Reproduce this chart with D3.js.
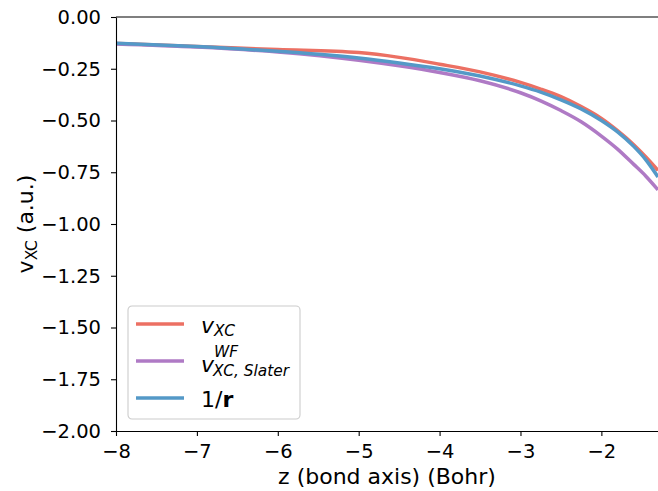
<!DOCTYPE html>
<html>
<head>
<meta charset="utf-8">
<script src="https://cdn.jsdelivr.net/npm/d3@7"></script>
<style>
  body { margin: 0; background: #fff; }
  text { font-family: "DejaVu Sans", sans-serif; fill: #000; }
</style>
</head>
<body>
<svg id="chart" width="658" height="491"></svg>
<script>
const width = 658;
const height = 491;
const margin = { top: 17, right: 0, bottom: 60, left: 116 };

// values
const z = [-8.0, -7.0, -6.0, -5.0, -4.5, -4.0, -3.5, -3.0, -2.75, -2.5, -2.25, -2.0, -1.8, -1.6, -1.45, -1.3];
const vxc = [-0.128, -0.143, -0.157, -0.172, -0.195, -0.228, -0.265, -0.316, -0.348, -0.385, -0.433, -0.490, -0.549, -0.617, -0.676, -0.741];
const vSlater = [-0.130, -0.145, -0.169, -0.209, -0.236, -0.268, -0.308, -0.366, -0.405, -0.452, -0.506, -0.575, -0.638, -0.712, -0.769, -0.835];
const invR = [-0.127, -0.143, -0.166, -0.198, -0.222, -0.250, -0.285, -0.333, -0.363, -0.400, -0.444, -0.500, -0.555, -0.625, -0.690, -0.773];

const xTicks = [-8, -7, -6, -5, -4, -3, -2];
const yTicks = [0, -0.25, -0.5, -0.75, -1, -1.25, -1.5, -1.75, -2];

const svg = d3.select('#chart');

const x = d3.scaleLinear().domain([-8, -1.3]).range([margin.left, width - margin.right]);
const y = d3.scaleLinear().domain([-2, 0]).range([height - margin.bottom, margin.top]);

svg.append('defs').append('clipPath').attr('id', 'clip')
  .append('rect')
  .attr('x', margin.left).attr('y', margin.top)
  .attr('width', width - margin.left - margin.right)
  .attr('height', height - margin.top - margin.bottom);

// Lines
const series = [
  { values: vxc, color: '#ec7063' },
  { values: vSlater, color: '#af7ac5' },
  { values: invR, color: '#5499c7' }
];

const line = d3.line()
  .x((d, i) => x(z[i]))
  .y(d => y(d))
  .curve(d3.curveMonotoneX);

svg.append('g')
  .attr('clip-path', 'url(#clip)')
  .selectAll('path')
  .data(series)
  .enter().append('path')
  .attr('d', d => line(d.values))
  .attr('fill', 'none')
  .attr('stroke', d => d.color)
  .attr('stroke-width', 3.5);

// Axes
const xAxis = d3.axisBottom(x)
  .tickValues(xTicks)
  .tickFormat(d3.format('d'))
  .tickSize(5)
  .tickSizeOuter(0)
  .tickPadding(8);

const yAxis = d3.axisLeft(y)
  .tickValues(yTicks)
  .tickFormat(d3.format('.2f'))
  .tickSize(5)
  .tickSizeOuter(0)
  .tickPadding(10);

const gx = svg.append('g')
  .attr('transform', `translate(0,${height - margin.bottom})`)
  .call(xAxis);

const gy = svg.append('g')
  .attr('transform', `translate(${margin.left},0)`)
  .call(yAxis);

[gx, gy].forEach(g => {
  g.selectAll('.domain').attr('stroke', '#000').attr('stroke-width', 1.1);
  g.selectAll('.tick line').attr('stroke', '#000').attr('stroke-width', 1.1);
  g.selectAll('.tick text').attr('font-size', 19.5).attr('font-family', 'DejaVu Sans').attr('fill', '#000');
});

// top spine
svg.append('line')
  .attr('x1', margin.left).attr('x2', width)
  .attr('y1', margin.top).attr('y2', margin.top)
  .attr('stroke', '#000').attr('stroke-width', 1.1);

// Axis labels
svg.append('text')
  .attr('x', (margin.left + width) / 2)
  .attr('y', 484)
  .attr('text-anchor', 'middle')
  .attr('font-size', 22)
  .text('z (bond axis) (Bohr)');

const yl = svg.append('text')
  .attr('transform', `translate(33,${(margin.top + height - margin.bottom) / 2}) rotate(-90)`)
  .attr('text-anchor', 'middle')
  .attr('font-size', 22);
yl.append('tspan').text('v');
yl.append('tspan').attr('font-size', 15.4).attr('dy', 4).text('XC');
yl.append('tspan').attr('dy', -4).text(' (a.u.)');

// Legend
const legend = svg.append('g').attr('transform', 'translate(128,306)');

legend.append('rect')
  .attr('width', 172).attr('height', 113)
  .attr('rx', 4)
  .attr('fill', '#fff').attr('fill-opacity', 0.8)
  .attr('stroke', '#cccccc').attr('stroke-width', 1.1);

const rowsY = [18, 55, 92];
legend.selectAll('line.handle')
  .data(series)
  .enter().append('line')
  .attr('class', 'handle')
  .attr('x1', 8).attr('x2', 56)
  .attr('y1', (d, i) => rowsY[i]).attr('y2', (d, i) => rowsY[i])
  .attr('stroke', d => d.color)
  .attr('stroke-width', 3.5);

const t1 = legend.append('text').attr('x', 73).attr('y', 27).attr('font-size', 22);
t1.append('tspan').attr('font-style', 'italic').text('v');
t1.append('tspan').attr('font-style', 'italic').attr('font-size', 15.4).attr('dy', 3).text('XC');

const t2 = legend.append('text').attr('x', 73).attr('y', 66).attr('font-size', 22);
t2.append('tspan').attr('font-style', 'italic').text('v');
t2.append('tspan').attr('font-style', 'italic').attr('font-size', 15.4).attr('dy', -15).text('WF');
t2.append('tspan').attr('font-style', 'italic').attr('font-size', 15.4)
  .attr('x', 85).attr('dy', 19).text('XC, Slater');

const t3 = legend.append('text').attr('x', 73).attr('y', 101).attr('font-size', 22);
t3.append('tspan').text('1/');
t3.append('tspan').attr('font-weight', 'bold').text('r');
</script>
</body>
</html>
